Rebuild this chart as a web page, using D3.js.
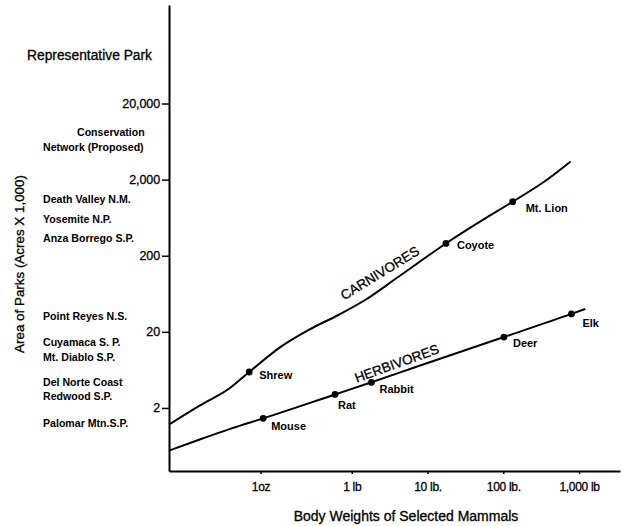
<!DOCTYPE html>
<html>
<head>
<meta charset="utf-8">
<script src="https://cdn.jsdelivr.net/npm/d3@7"></script>
<style>
  body { margin: 0; background: #fff; }
  text { font-family: "Liberation Sans", Arial, Helvetica, sans-serif; fill: #000; }
  .heavy { stroke: #000; stroke-width: 0.3px; }
</style>
</head>
<body>
<div id="vis"></div>
<script>
    // axis ticks
    var xTicks = [1 / 16, 1, 10, 100, 1000],
        xTickLabels = ["1oz", "1 lb", "10 lb.", "100 lb.", "1,000 lb"],
        yTicks = [2, 20, 200, 2000, 20000];

    // curves (body weight in lb, park area in acres x 1,000)
    var carnWeights = [0.00387, 0.00993, 0.0247, 0.0443, 0.119, 0.267, 0.664, 1.5, 3.92, 17.5, 49.2, 133, 373, 774],
        carnAreas = [1.21, 2.16, 3.66, 5.94, 13.0, 21.1, 33.3, 52.4, 102, 290, 560, 1026, 1977, 3460];
    var herbWeights = [0.00387, 0.00943, 0.026, 0.0678, 0.601, 1.82, 6.84, 102, 794, 1208],
        herbAreas = [0.55, 0.759, 1.08, 1.46, 3.01, 4.35, 6.84, 17.1, 34.4, 39.9];

    // marked animals
    var carnAnimals = ["Shrew", "Coyote", "Mt. Lion"],
        carnAnimalWeights = [0.0443, 17.5, 133],
        carnAnimalAreas = [5.94, 290, 1026];
    var herbAnimals = ["Mouse", "Rat", "Rabbit", "Deer", "Elk"],
        herbAnimalWeights = [0.0678, 0.601, 1.82, 102, 794],
        herbAnimalAreas = [1.46, 3.01, 4.35, 17.1, 34.4];

    // representative parks, placed at their area
    var parkNames = [["Conservation", "Network  (Proposed)"], ["Death Valley N.M."], ["Yosemite N.P."], ["Anza Borrego S.P."],
                     ["Point Reyes N.S."], ["Cuyamaca S. P."], ["Mt. Diablo S.P."], ["Del Norte Coast", "Redwood S.P."], ["Palomar Mtn.S.P."]],
        parkAreas = [6650, 1100, 600, 337, 31.6, 14.7, 9.16, 3.48, 1.27];

    // curve names
    var curveNames = ["CARNIVORES", "HERBIVORES"],
        curveNameWeights = [2.92, 4.33],
        curveNameAreas = [83.3, 5.85];

    var W = 622, H = 526,
        margin = {left: 169, top: 5, right: 2, bottom: 55},
        w = W - margin.left - margin.right,
        h = H - margin.top - margin.bottom;

    var svg = d3.select("#vis").append("svg").attr("width", W).attr("height", H),
        g = svg.append("g").attr("transform", "translate(" + margin.left + "," + margin.top + ")");

    var x = d3.scaleLog().domain([0.00387, 3470]).range([0, w]),
        y = d3.scaleLog().domain([0.297, 394000]).range([h, 0]);

    // y axis
    var yAxis = g.append("g")
        .call(d3.axisLeft(y).tickValues(yTicks).tickFormat(d3.format(",")).tickSizeInner(7).tickSizeOuter(0).tickPadding(2));
    yAxis.select(".domain").attr("stroke-width", 2);
    yAxis.selectAll(".tick line").attr("stroke-width", 1.5);
    yAxis.selectAll("text").attr("class", "heavy").style("font-size", "12.5px").attr("letter-spacing", -0.1);

    // x axis
    var xAxis = g.append("g").attr("transform", "translate(0," + h + ")")
        .call(d3.axisBottom(x).tickValues(xTicks).tickFormat(function (d, i) { return xTickLabels[i]; })
            .tickSizeInner(3).tickSizeOuter(0).tickPadding(8));
    xAxis.select(".domain").attr("stroke-width", 2);
    xAxis.selectAll(".tick line").attr("stroke-width", 1.5);
    xAxis.selectAll("text").attr("class", "heavy").style("font-size", "12px").attr("letter-spacing", -0.3);

    // axis titles
    svg.append("text").attr("class", "heavy").attr("x", 406).attr("y", 521).attr("text-anchor", "middle")
        .style("font-size", "14px").text("Body Weights of Selected Mammals");
    svg.append("text").attr("class", "heavy").attr("transform", "translate(24,264) rotate(-90)").attr("text-anchor", "middle")
        .style("font-size", "13.4px").text("Area of Parks (Acres X 1,000)");
    svg.append("text").attr("class", "heavy").attr("x", 27).attr("y", 60)
        .style("font-size", "13.8px").text("Representative Park");

    // park labels
    parkNames.forEach(function (lines, i) {
        var t = svg.append("text").attr("y", margin.top + y(parkAreas[i]))
            .style("font-size", "10.6px").style("font-weight", "bold");
        lines.forEach(function (s, j) {
            var lx = (lines.length > 1 && i === 0 && j === 0) ? 77 : 43;
            t.append("tspan").attr("x", lx)
                .attr("dy", j === 0 ? (lines.length > 1 ? (i === 0 ? "-0.4em" : "-0.3em") : "0.35em") : (i === 0 ? "1.4em" : "1.25em"))
                .text(s);
        });
    });

    // curves
    var line = d3.line().x(function (d) { return x(d[0]); }).y(function (d) { return y(d[1]); }).curve(d3.curveMonotoneX);

    g.append("path").datum(d3.zip(carnWeights, carnAreas))
        .attr("d", line).attr("fill", "none").attr("stroke", "#000").attr("stroke-width", 2);
    g.append("path").datum(d3.zip(herbWeights, herbAreas))
        .attr("d", line).attr("fill", "none").attr("stroke", "#000").attr("stroke-width", 2);

    // animal dots and names
    var offsets = {
        "Shrew": [10, 3], "Coyote": [11, 2], "Mt. Lion": [13, 6],
        "Mouse": [8, 8], "Rat": [3, 11], "Rabbit": [8, 7], "Deer": [9, 6], "Elk": [11, 9]
    };

    function addAnimals(names, ws, as) {
        names.forEach(function (n, i) {
            var px = x(ws[i]), py = y(as[i]);
            g.append("circle").attr("cx", px).attr("cy", py).attr("r", 3.4).attr("fill", "#000");
            g.append("text").attr("x", px + offsets[n][0]).attr("y", py + offsets[n][1]).attr("dy", "0.35em")
                .style("font-size", "11px").style("font-weight", "bold").text(n);
        });
    }
    addAnimals(carnAnimals, carnAnimalWeights, carnAnimalAreas);
    addAnimals(herbAnimals, herbAnimalWeights, herbAnimalAreas);

    // curve names, rotated along the lines
    var angles = [-31.6, -19.8], lift = [-9, -5];
    curveNames.forEach(function (n, i) {
        g.append("text").attr("class", "heavy")
            .attr("transform", "translate(" + x(curveNameWeights[i]) + "," + y(curveNameAreas[i]) + ") rotate(" + angles[i] + ")")
            .attr("y", lift[i]).attr("text-anchor", "middle")
            .style("font-size", "13.5px").text(n);
    });
</script>
</body>
</html>
